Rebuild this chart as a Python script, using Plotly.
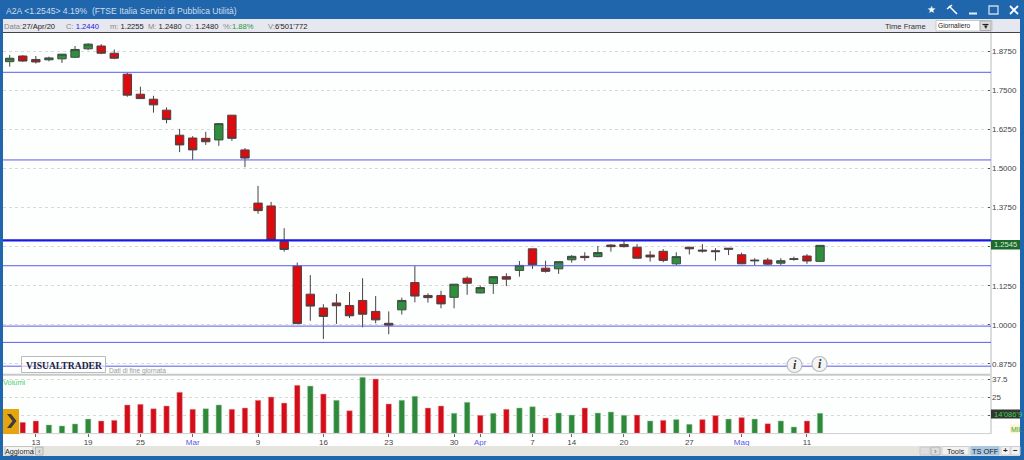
import plotly.graph_objects as go

W, H = 1024, 460

opens = [1.841,1.859,1.848,1.847,1.850,1.855,1.882,1.891,1.868,1.801,1.737,1.721,1.686,1.606,1.597,1.596,1.591,1.670,1.559,1.389,1.380,1.266,1.188,1.098,1.054,1.070,1.062,1.078,1.043,1.005,1.048,1.135,1.094,1.094,1.088,1.149,1.102,1.132,1.154,1.174,1.243,1.181,1.179,1.208,1.219,1.218,1.255,1.257,1.248,1.223,1.235,1.195,1.248,1.239,1.237,1.245,1.224,1.207,1.207,1.197,1.209,1.220,1.203]
highs = [1.862,1.862,1.859,1.857,1.865,1.891,1.900,1.897,1.880,1.805,1.761,1.732,1.695,1.626,1.603,1.617,1.644,1.670,1.565,1.444,1.393,1.309,1.199,1.159,1.066,1.099,1.105,1.149,1.092,1.043,1.087,1.188,1.101,1.109,1.130,1.155,1.126,1.154,1.165,1.204,1.243,1.205,1.202,1.223,1.232,1.252,1.258,1.271,1.258,1.236,1.242,1.232,1.248,1.258,1.245,1.245,1.231,1.213,1.214,1.213,1.218,1.226,1.254]
lows = [1.825,1.840,1.835,1.842,1.837,1.853,1.878,1.865,1.849,1.729,1.722,1.678,1.644,1.552,1.527,1.575,1.572,1.588,1.504,1.355,1.270,1.234,1.003,1.013,0.955,1.003,1.022,0.992,1.005,0.970,1.033,1.072,1.071,1.053,1.053,1.096,1.101,1.099,1.124,1.154,1.179,1.167,1.163,1.199,1.205,1.216,1.234,1.247,1.211,1.202,1.200,1.191,1.225,1.231,1.205,1.223,1.194,1.191,1.191,1.190,1.205,1.195,1.201]
closes = [1.852,1.843,1.840,1.853,1.865,1.880,1.897,1.868,1.852,1.734,1.723,1.703,1.656,1.575,1.559,1.585,1.643,1.596,1.533,1.365,1.271,1.241,1.004,1.060,1.027,1.061,1.029,1.034,1.016,0.999,1.078,1.092,1.087,1.067,1.130,1.133,1.119,1.154,1.146,1.190,1.192,1.171,1.202,1.219,1.215,1.231,1.250,1.250,1.213,1.217,1.206,1.218,1.243,1.236,1.234,1.242,1.195,1.205,1.194,1.205,1.211,1.204,1.254]
volumes = [8.0,7.6,8.6,5.8,5.1,6.5,9.9,8.6,9.0,19.7,20.1,17.1,19.0,28.5,16.7,17.1,19.7,16.7,17.6,22.9,25.2,21.0,33.3,32.8,27.3,22.9,15.7,38.9,37.7,20.4,22.9,25.7,17.6,19.0,13.9,21.5,12.5,13.9,16.7,17.6,18.5,10.6,14.1,12.7,17.6,14.1,14.8,12.5,12.7,8.6,9.0,9.5,6.2,9.5,12.3,9.9,10.9,9.9,6.7,8.6,4.4,8.6,13.9]
volume_up = [0,0,0,1,1,1,1,0,0,0,0,0,0,0,0,1,1,0,0,0,0,0,0,1,0,1,0,1,0,0,1,1,0,0,1,1,0,1,0,1,1,0,1,1,0,1,1,1,0,1,0,1,1,0,0,1,0,1,0,1,1,0,1]
x_index = list(range(len(opens)))

x_tick_pos = [2,6,10,14,19,24,29,34,36,40,43,47,52,56,61]
x_tick_labels = ["13","19","25","Mar","9","16","23","30","Apr","7","14","20","27","Mag","11"]
month_labels = {"Mar","Apr","Mag"}

price_ticks = [1.875,1.75,1.625,1.5,1.375,1.25,1.125,1.0,0.875]
price_labels = ["1.8750","1.7500","1.6250","1.5000","1.3750","","1.1250","1.0000","0.8750"]
vol_ticks = [37.5,25,12.5]
vol_labels = ["37.5","25",""]

levels = [1.807,1.527,1.189,0.996,0.944,0.868]
strong_level = 1.270
last_price = 1.2545

FONT = "Liberation Sans"
PLOT_L, PLOT_R = 3, 991
def px(x): return x / W
def py(y): return 1 - y / H

shapes, ann = [], []
def rect(x0, y0, x1, y1, fill, line=None, lw=1):
    shapes.append(dict(type="rect", xref="paper", yref="paper", x0=px(x0), x1=px(x1), y0=py(y0), y1=py(y1),
                       fillcolor=fill, line=dict(color=line or fill, width=lw if line else 0), layer="above"))
def seg(x0, y0, x1, y1, color, lw=1):
    shapes.append(dict(type="line", xref="paper", yref="paper", x0=px(x0), x1=px(x1), y0=py(y0), y1=py(y1),
                       line=dict(color=color, width=lw), layer="above"))
def text(x, y, s, size=8, color="#333", anchor="left", bg=None, family=FONT):
    ann.append(dict(xref="paper", yref="paper", x=px(x), y=py(y), text=s, showarrow=False, xanchor=anchor,
                    yanchor="middle", font=dict(size=size, color=color, family=family),
                    bgcolor=bg, borderpad=0, borderwidth=0))

BLUE = "#1f66ac"
# window chrome
rect(0, 0, W, 19, BLUE)
rect(0, 19, W, 32, "#e7e7ef")
seg(3, 32.5, W, 32.5, "#444444", 1)
rect(0, 0, 3, H, BLUE)
rect(1020, 0, W, H, BLUE)
rect(0, 456, W, H, BLUE)
rect(3, 446, 1020, 456, "#e6e4de")
seg(3, 374.8, 991, 374.8, "#c8c8c8", 2)
seg(991, 33, 991, 434, "#dcdcdc", 2)
seg(3, 433.6, 991, 433.6, "#cfcfcf", 1)

# levels
for lv in levels:
    shapes.append(dict(type="line", xref="x domain", yref="y", x0=0, x1=1, y0=lv, y1=lv,
                       line=dict(color="#5a5af0", width=1), layer="above"))
shapes.append(dict(type="line", xref="x domain", yref="y", x0=0, x1=1, y0=strong_level, y1=strong_level,
                   line=dict(color="#1a1ae6", width=2.2), layer="above"))

# title
text(6, 11, "A2A &lt;1.2545&gt; 4.19%&nbsp;&nbsp;(FTSE Italia Servizi di Pubblica Utilità)", 8.6, "#cfdcea")
G, D = "#888888", "#222222"
text(4, 26, f"<span style='color:{G}'>Data:</span><span style='color:{D}'>27/Apr/20</span>", 7.6)
text(66, 26, f"<span style='color:{G}'>C:</span> <span style='color:#2222dd'>1.2440</span>", 7.6)
text(110, 26, f"<span style='color:{G}'>m:</span> <span style='color:{D}'>1.2255</span>", 7.6)
text(148, 26, f"<span style='color:{G}'>M:</span> <span style='color:{D}'>1.2480</span>", 7.6)
text(185, 26, f"<span style='color:{G}'>O:</span> <span style='color:{D}'>1.2480</span>", 7.6)
text(223, 26, f"<span style='color:{G}'>%:</span><span style='color:#1f9a3a'>1.88%</span>", 7.6)
text(268, 26, f"<span style='color:{G}'>V:</span><span style='color:{D}'>6'501'772</span>", 7.6)
text(885, 26, "Time Frame", 7.6, "#333333")
rect(936, 20.5, 992, 31, "#ffffff", "#c8c8c8")
text(938, 25.5, "Giornaliero", 6.6, "#222222")
rect(980, 21, 991, 30.5, "#dcdcdc", "#aaaaaa")
seg(982.5, 24.5, 988.5, 24.5, "#222222", 1.2)
text(985.5, 27, "▾", 7, "#222222", "center", family="DejaVu Sans")

# window buttons
text(931.5, 10, "★", 10, "#ffffff", "center", family="DejaVu Sans")
seg(949, 6, 957, 14, "#ffffff", 1.6)
seg(947, 9, 952, 5, "#ffffff", 1.6)
seg(969, 13.5, 977, 13.5, "#e8eef6", 2)
rect(989, 6, 998, 14, "rgba(0,0,0,0)", "#c6d6e8", 1.4)
seg(1010, 6, 1018, 14, "#ffffff", 1.8)
seg(1018, 6, 1010, 14, "#ffffff", 1.8)

# last value boxes
rect(991, 240, 1020, 249.5, "#1d6a2c")
text(993.5, 244.7, f"{last_price:.4f}", 7.6, "#d8ecd8")
rect(991, 409.5, 1020, 418.5, "#33352f")
text(994, 414, "14'086'9", 7.6, "#39d353")
rect(1010, 424.5, 1020, 433.5, "#fbf6cf")
text(1011, 429, "MIL", 7, "#3a9a3a")

# watermark, notes
rect(21.5, 356.5, 105.5, 372.5, "rgba(255,255,255,0.6)", "#bbbbbb")
text(26, 365, "<b>VISUALTRADER</b>", 9.6, "#1b2440", family="Liberation Serif")
text(109, 370.5, "Dati di fine giornata", 6.6, "#9a9a9a")
text(3, 382, "Volumi", 7.4, "#46d060")

# info icons
for cx, cy in [(794.5, 365), (819.5, 364)]:
    shapes.append(dict(type="circle", xref="paper", yref="paper", x0=px(cx-7.5), x1=px(cx+7.5), y0=py(cy+7.5), y1=py(cy-7.5),
                       fillcolor="#f4f4f4", line=dict(color="#b9b9c2", width=1.2), layer="above"))
    text(cx, cy, "<b><i>i</i></b>", 12, "#333333", "center", family="Liberation Serif")

# orange button
rect(3, 409, 19, 434, "#e6a40f")
shapes.append(dict(type="path", xref="paper", yref="paper", layer="above", fillcolor="#3c3c3c", line=dict(width=0),
                   path=f"M {px(7)} {py(414)} L {px(11)} {py(414)} L {px(16.5)} {py(421)} L {px(11)} {py(428)} L {px(7)} {py(428)} L {px(12.5)} {py(421)} Z"))

# bottom bar
rect(5, 446.5, 33, 455, "#f4f4f4", "#c4c4c4")
text(19, 451, "Aggiorna", 7.2, "#222222", "center")
rect(35.5, 447, 43, 455, "#dddddd", "#b4b4b4")
text(39.3, 451, "‹", 8, "#666666", "center")
rect(920, 447, 930, 455, "#dddddd", "#c8c8c8")
rect(931, 447, 940, 455, "#dddddd", "#b4b4b4")
text(935.5, 451, "›", 8, "#666666", "center")
rect(942, 446.5, 969, 455, "#f2f2f2", "#d0d0d0")
text(955.5, 451, "Tools", 7.4, "#222222", "center")
rect(971, 446.5, 999, 455, "#a9c9e2", "#a9c9e2")
text(985, 451, "TS OFF", 7.4, "#222222", "center")
rect(1001, 446.5, 1010, 455, "#f2f2f2", "#d0d0d0")
text(1005.5, 450.5, "<b>+</b>", 8, "#222222", "center")
rect(1011, 446.5, 1020, 455, "#f2f2f2", "#d0d0d0")
text(1015.5, 450.5, "<b>−</b>", 8, "#222222", "center")

fig = go.Figure()
fig.add_trace(go.Candlestick(
    x=x_index, open=opens, high=highs, low=lows, close=closes, xaxis="x", yaxis="y",
    whiskerwidth=0, showlegend=False, hoverinfo="skip",
    increasing=dict(fillcolor="#2e8f3c", line=dict(color="#3f4a42", width=1)),
    decreasing=dict(fillcolor="#dd0a10", line=dict(color="#4a4242", width=1)),
))
fig.add_trace(go.Bar(
    x=x_index, y=volumes, xaxis="x", yaxis="y2", width=0.42, showlegend=False, hoverinfo="skip",
    marker=dict(color=["#2e8a3a" if u else "#d40d18" for u in volume_up],
                line=dict(color=["#a8cfae" if u else "#e0b0b4" for u in volume_up], width=0.5)),
))

ticktext = [f"<span style='color:#5555ee'>{t}</span>" if t in month_labels else t for t in x_tick_labels]
grid = "#d9d9d3"
fig.update_layout(
    width=W, height=H, margin=dict(l=0, r=0, t=0, b=0), autosize=False,
    paper_bgcolor="#ffffff", plot_bgcolor="#fdfefe", hovermode=False, bargap=0.5,
    boxgap=0.2, boxgroupgap=0.2,
    font=dict(family=FONT, size=8, color="#444444"), shapes=shapes, annotations=ann,
    xaxis=dict(domain=[px(PLOT_L), px(PLOT_R)], range=[-0.513, 75.08], anchor="y2", rangeslider=dict(visible=False),
               tickmode="array", tickvals=x_tick_pos, ticktext=ticktext, ticks="outside", ticklen=3, tickcolor="#666666",
               ticklabelstandoff=-2,
               showgrid=False, zeroline=False, showline=False, tickfont=dict(size=8, color="#444444", family=FONT), fixedrange=True),
    yaxis=dict(domain=[py(374), py(33)], range=[0.843, 1.9326], side="right", anchor="x",
               tickmode="array", tickvals=price_ticks, ticktext=price_labels, ticks="inside", ticklen=3, tickcolor="#555555",
               showgrid=True, gridcolor=grid, griddash="dot", gridwidth=1, zeroline=False, showline=False,
               tickfont=dict(size=8, color="#444444", family=FONT), fixedrange=True),
    yaxis2=dict(domain=[py(433.3), py(376)], range=[0, 39.8], side="right", anchor="x",
                tickmode="array", tickvals=vol_ticks, ticktext=vol_labels, ticks="inside", ticklen=3, tickcolor="#555555",
                showgrid=True, gridcolor=grid, griddash="dot", gridwidth=1, zeroline=False, showline=False,
                tickfont=dict(size=8, color="#444444", family=FONT), fixedrange=True),
)
fig.write_html("out.html", config=dict(displayModeBar=False, responsive=False),
               post_script="document.body.style.margin='0';document.body.style.overflow='hidden';")
